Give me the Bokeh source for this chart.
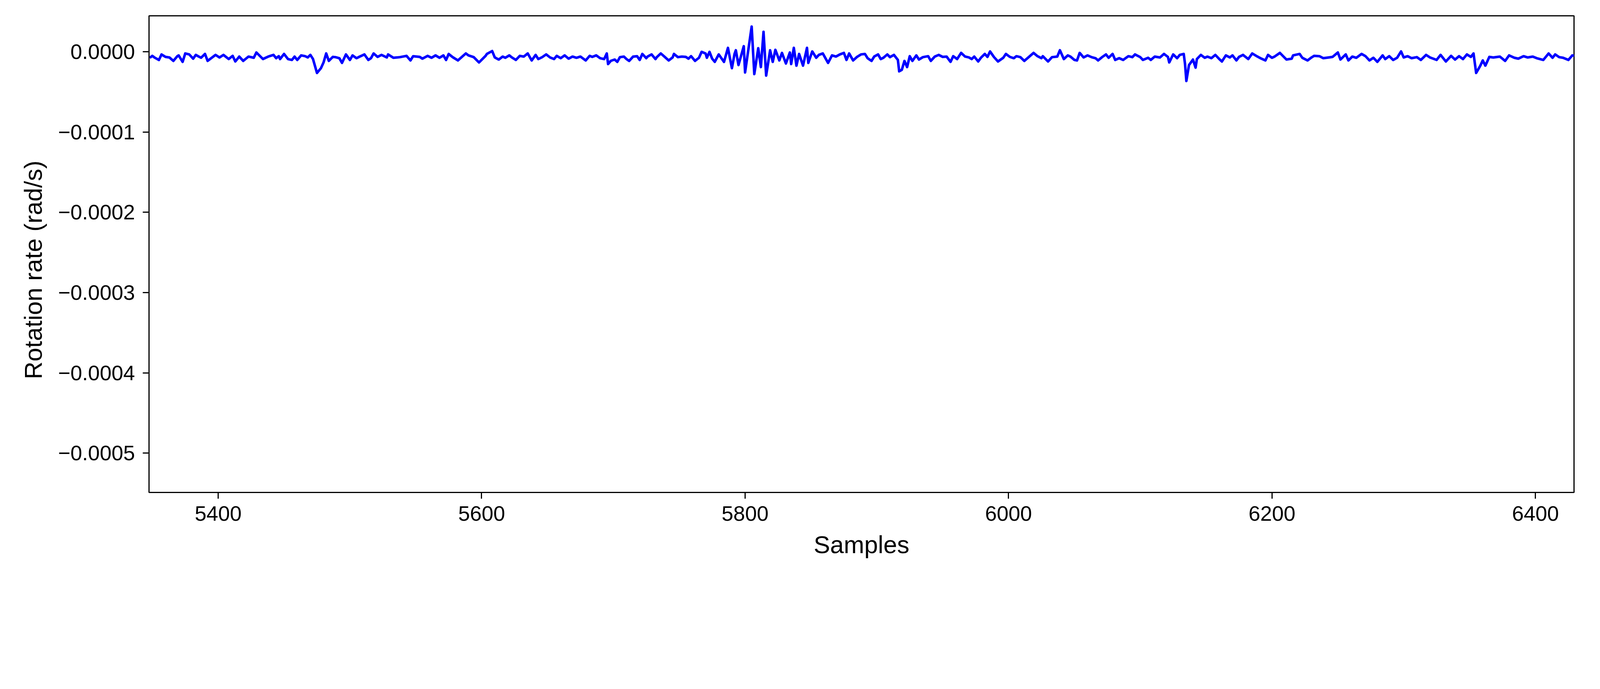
from bokeh.plotting import figure
from bokeh.models import ColumnDataSource, FixedTicker, Range1d, CustomJSTickFormatter, Title
from bokeh.embed import file_html
from bokeh.resources import INLINE

# ---- data (rotation rate; values in micro rad/s) ----
samples = [
    5348, 5350, 5352, 5355, 5357, 5360, 5363, 5366, 5369, 5370, 5373, 5375, 5378, 5381, 5383, 5387,
    5390, 5392, 5397, 5398, 5401, 5404, 5408, 5411, 5413, 5416, 5419, 5423, 5427, 5429, 5434, 5438,
    5442, 5444, 5446, 5447, 5450, 5453, 5456, 5458, 5460, 5463, 5466, 5468, 5470, 5472, 5475, 5478,
    5480, 5482, 5484, 5487, 5489, 5492, 5494, 5497, 5500, 5502, 5505, 5507, 5511, 5514, 5516, 5518,
    5521, 5524, 5528, 5529, 5533, 5538, 5543, 5546, 5548, 5553, 5555, 5559, 5562, 5565, 5568, 5571,
    5573, 5575, 5578, 5582, 5588, 5590, 5594, 5598, 5603, 5604, 5608, 5610, 5613, 5616, 5618,
    5621, 5623, 5626, 5629, 5632, 5635, 5638, 5641, 5643, 5646, 5649, 5652, 5655, 5657, 5660, 5663,
    5666, 5669, 5672, 5675, 5679, 5682, 5684, 5687, 5690, 5693, 5695, 5696, 5698, 5701, 5703, 5705,
    5708, 5710, 5712, 5715, 5718, 5720, 5722, 5725, 5726, 5729, 5732, 5733, 5736, 5739, 5742, 5745,
    5746, 5749, 5752, 5755, 5757, 5759, 5762, 5765, 5767, 5770, 5771, 5773, 5775, 5777, 5780, 5784,
    5787, 5790, 5792, 5793, 5795, 5799, 5800, 5805, 5807, 5810, 5812, 5814, 5816, 5819, 5821, 5823,
    5826, 5828, 5831, 5834, 5835, 5837, 5839, 5841, 5844, 5847, 5848, 5851, 5854, 5856, 5859, 5863,
    5866, 5869, 5872, 5875, 5877, 5879, 5882, 5885, 5888,
    5891, 5893, 5896, 5898, 5901, 5903, 5905, 5908, 5910, 5913, 5916, 5917, 5919, 5921, 5923, 5925,
    5927, 5930, 5932, 5935, 5939, 5941, 5944, 5947, 5950, 5953, 5956, 5958, 5961, 5964, 5967, 5970,
    5972, 5974, 5977, 5979, 5982, 5984, 5986, 5989, 5992, 5996, 5998, 6001, 6004, 6006, 6009, 6012,
    6015, 6019, 6022, 6025, 6026, 6030, 6033, 6037, 6039, 6042, 6045, 6047, 6050, 6052, 6054, 6057,
    6060, 6063, 6066, 6068, 6071, 6074, 6076, 6079, 6081, 6084, 6087, 6091, 6094, 6096, 6100, 6102,
    6106, 6108, 6111, 6115, 6118, 6121, 6122, 6125, 6128, 6130, 6133, 6134, 6135, 6137, 6140, 6142,
    6143, 6146, 6149, 6151, 6154, 6157, 6160,
    6162, 6165, 6168, 6170, 6173, 6175, 6178, 6182, 6185, 6188, 6192, 6195, 6197, 6200, 6202, 6206,
    6209, 6211, 6215, 6216, 6221, 6223, 6227, 6230, 6232, 6236, 6239, 6243, 6246, 6250, 6252, 6256,
    6258, 6261, 6264, 6268, 6271, 6274, 6277, 6280, 6284, 6286, 6289, 6292, 6295, 6298, 6300, 6303,
    6306, 6310, 6313, 6317, 6320, 6325, 6328, 6332, 6336, 6339, 6342, 6345, 6348, 6351, 6353, 6355,
    6358, 6360, 6362, 6365, 6368, 6373, 6377, 6380, 6384, 6387, 6391, 6394, 6398, 6401, 6406, 6410,
    6413, 6415, 6418, 6421, 6425, 6428, 6430,
]

rate_micro = [
    -7.4, -5.0, -7.4, -10.1, -3.2, -6.3, -7.0, -11.3, -5.4, -4.4, -12.5, -2.0, -3.2, -8.5, -3.8, -7.4,
    -2.6, -11.3, -5.0, -3.8, -7.0, -3.8, -9.0, -5.0, -12.0, -5.9, -11.3, -5.9, -7.4, -0.8, -9.0, -5.9,
    -3.8, -7.9, -5.4, -9.0, -2.6, -9.0, -10.1, -5.9, -10.1, -4.4, -5.4, -7.0, -3.8, -9.0, -26.3, -20.4,
    -13.2, -2.0, -11.3, -6.3, -6.6, -7.9, -13.8, -3.2, -10.1, -4.4, -7.9, -6.3, -3.2, -10.1, -7.9, -2.0,
    -6.3, -3.8, -7.0, -3.2, -7.4, -6.6, -5.0, -10.7, -5.4, -6.3, -8.5, -5.0, -7.4, -4.4, -7.4, -4.4,
    -10.1, -2.6, -6.6, -10.7, -2.0, -4.4, -6.6, -13.2, -5.0, -2.6, 1.0, -7.0, -9.6, -5.9, -7.4,
    -4.4, -7.0, -10.1, -5.0, -5.9, -2.0, -10.7, -3.8, -9.0, -6.6, -3.2, -7.0, -9.0, -5.0, -7.9, -4.4,
    -8.5, -5.9, -7.4, -5.9, -10.7, -5.0, -6.3, -4.4, -7.9, -9.0, -2.0, -15.2, -11.3, -9.6, -12.5, -6.6,
    -5.9, -9.0, -11.3, -5.9, -5.4, -10.1, -2.6, -7.9, -5.9, -3.2, -9.0, -6.6, -2.0, -6.3, -10.7, -7.0,
    -2.6, -6.6, -5.9, -6.3, -8.5, -5.4, -11.3, -7.4, 0.0, -2.0, -7.4, 0.0, -8.5, -12.5, -3.2, -12.5,
    5.0, -20.4, -2.6, 2.0, -16.5, 7.0, -25.7, 31.5, -27.7, 4.5, -19.0, 25.0, -29.6, 2.0, -12.5, 2.5,
    -10.7, -1.3, -14.5, -0.8, -15.2, 5.0, -17.2, -2.6, -17.2, 5.0, -13.8, 0.5, -7.4, -3.8, -2.0, -13.8,
    -4.4, -5.9, -3.2, -1.3, -10.1, -2.0, -10.7, -6.3, -3.2,
    -2.6, -7.9, -11.3, -5.9, -3.2, -9.0, -7.4, -3.2, -6.6, -3.8, -10.1, -24.3, -22.4, -11.3, -19.0, -5.4,
    -11.3, -4.4, -9.6, -6.6, -5.4, -11.3, -5.9, -3.8, -6.3, -5.9, -12.5, -5.4, -9.0, -1.3, -5.9, -7.0,
    -9.0, -5.9, -12.0, -7.4, -2.6, -6.3, 0.5, -6.6, -12.0, -7.4, -2.6, -6.3, -7.9, -5.4, -6.6, -11.3,
    -7.0, -1.3, -5.4, -7.9, -5.4, -12.0, -6.6, -5.9, 2.0, -9.0, -4.4, -5.9, -10.1, -10.7, -1.3, -7.0,
    -4.4, -6.6, -7.9, -10.7, -6.6, -3.2, -7.4, -2.6, -10.1, -7.9, -10.1, -5.4, -6.6, -3.2, -6.6, -10.1,
    -7.4, -10.1, -5.9, -7.0, -2.6, -6.3, -13.2, -3.2, -7.9, -3.8, -2.6, -15.2, -36.3, -16.5, -9.6, -19.7,
    -9.0, -3.8, -7.4, -5.9, -7.9, -3.8, -9.0,
    -12.0, -4.4, -7.0, -4.4, -10.7, -6.3, -3.8, -9.0, -2.0, -5.0, -8.5, -10.7, -3.8, -7.4, -5.9, -1.3,
    -6.3, -9.6, -8.5, -4.4, -2.6, -7.4, -10.7, -7.0, -5.0, -5.4, -7.9, -7.0, -6.3, -0.8, -9.6, -3.2,
    -10.7, -5.9, -7.4, -2.6, -5.4, -10.7, -7.4, -12.5, -4.4, -9.0, -5.4, -10.1, -7.4, 0.5, -7.0, -5.4,
    -7.9, -6.6, -10.1, -3.8, -7.0, -10.1, -3.8, -12.0, -5.0, -9.6, -5.4, -9.0, -3.2, -6.3, -2.0, -26.3,
    -17.8, -10.7, -17.2, -6.3, -7.0, -5.9, -11.3, -4.4, -7.4, -8.5, -5.4, -7.0, -5.9, -7.9, -10.1, -2.0,
    -7.4, -3.2, -6.6, -7.4, -10.1, -4.4, -5.0,
]

x_ticks = [5400, 5600, 5800, 6000, 6200, 6400]
y_ticks = [0.0, -0.0001, -0.0002, -0.0003, -0.0004, -0.0005]

x_label = "Samples"
y_label = "Rotation rate (rad/s)"

rate = [v * 1e-6 for v in rate_micro]
source = ColumnDataSource(data=dict(x=samples, y=rate))

FONT = "Liberation Sans"

p = figure(
    frame_width=3648, frame_height=1221,
    min_border_left=381, min_border_right=51, min_border_top=40, min_border_bottom=200,
    x_range=Range1d(5347.5, 6429.3), y_range=Range1d(-0.000549, 0.0000449),
    output_backend="svg", toolbar_location=None, tools="",
    background_fill_color="white", border_fill_color="white",
)

p.line("x", "y", source=source, line_color="#0000ff", line_width=6.5, line_join="round")

p.xgrid.grid_line_color = None
p.ygrid.grid_line_color = None
p.outline_line_color = "black"
p.outline_line_width = 3
p.outline_line_alpha = 1.0

p.xaxis.ticker = FixedTicker(ticks=x_ticks)
p.yaxis.ticker = FixedTicker(ticks=y_ticks)
p.yaxis.formatter = CustomJSTickFormatter(code="""
    if (Math.abs(tick) < 1e-12) { return "0.0000"; }
    return tick.toFixed(4).replace("-", "\u2212");
""")

for ax in (p.xaxis, p.yaxis):
    ax.axis_line_color = "black"
    ax.axis_line_width = 3
    ax.major_tick_line_color = "black"
    ax.major_tick_line_width = 3
    ax.major_tick_out = 16
    ax.major_tick_in = 0
    ax.minor_tick_line_color = None
    ax.major_label_text_font = FONT
    ax.major_label_text_font_size = "54px"
    ax.major_label_text_color = "black"
    ax.axis_label_text_font = FONT
    ax.axis_label_text_font_size = "63px"
    ax.axis_label_text_font_style = "normal"
    ax.axis_label_text_color = "black"

p.xaxis.axis_label = x_label
p.xaxis.major_label_standoff = 19
p.yaxis.major_label_standoff = 20
p.xaxis.axis_label_standoff = 23

# y label as a left-side title, anchored from the bottom so it sits where the reference puts it
ytitle = Title(text=y_label, align="left", offset=290, standoff=52,
               text_font=FONT, text_font_size="63px", text_font_style="normal",
               text_color="black")
p.add_layout(ytitle, "left")

open("out.html", "w").write(file_html(p, INLINE))
